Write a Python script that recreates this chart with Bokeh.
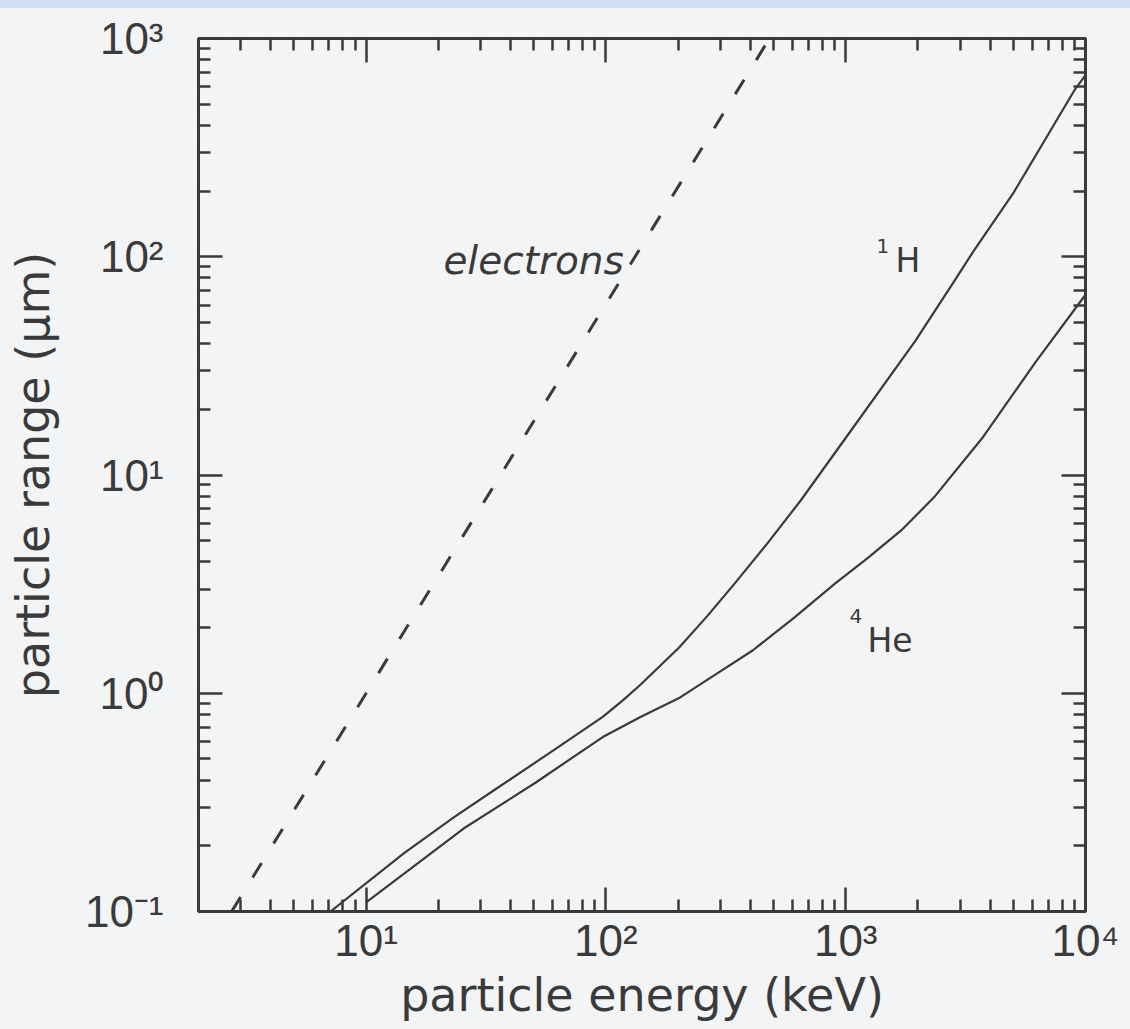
from bokeh.plotting import figure
from bokeh.models import LogAxis, FixedTicker, CustomJSTickFormatter, Div
from bokeh.layouts import column
from bokeh.core.properties import value
from bokeh.embed import file_html
from bokeh.resources import INLINE

# Particle ranges (um) versus kinetic energy (keV)
energy_electrons = [2.75, 481]
range_electrons = [0.1, 1000]

energy_h1 = [7.1, 14.4, 23.2, 35, 60.4, 97, 118, 140, 202, 264, 344, 475, 649,
             1040, 1955, 2845, 3430, 4990, 8980, 10000]
range_h1 = [0.10, 0.185, 0.27, 0.366, 0.547, 0.78, 0.93, 1.10, 1.62, 2.25, 3.18, 4.91, 7.64,
            15.7, 41.3, 77.8, 107, 195, 578, 680]

energy_he4 = [10, 25.5, 51, 97, 140, 204, 287, 409, 610, 902, 1245, 1703, 2330,
              3735, 6200, 10000]
range_he4 = [0.11, 0.24, 0.39, 0.63, 0.78, 0.957, 1.22, 1.57, 2.22, 3.18, 4.19, 5.57, 7.88,
             14.9, 33, 67]

# Tick positions
x_major = [10, 100, 1000, 10000]
x_minor = [m * 10 ** k for k in range(0, 4) for m in range(2, 10) if m * 10 ** k > 2]
y_major = [0.1, 1, 10, 100, 1000]
y_minor = [m * 10.0 ** k for k in range(-1, 3) for m in range(2, 10)]

INK = "#3a3a3a"
BG = "#f2f4f5"
BAND = "#cfdff1"

p = figure(width=1130, height=1021, x_axis_type="log", y_axis_type="log",
           x_range=(2, 1e4), y_range=(0.1, 1e3),
           output_backend="svg", toolbar_location=None,
           min_border_left=198, min_border_right=45,
           min_border_top=30, min_border_bottom=118,
           background_fill_color=BG, border_fill_color=BG)
p.grid.visible = False
p.outline_line_color = INK
p.outline_line_width = 3

sup_fmt = CustomJSTickFormatter(code="""
const sup = {'-': '\u207b', '0': '\u2070', '1': '\u00b9', '2': '\u00b2', '3': '\u00b3',
             '4': '\u2074', '5': '\u2075', '6': '\u2076', '7': '\u2077', '8': '\u2078', '9': '\u2079'};
const e = Math.round(Math.log10(tick));
return '10' + String(e).split('').map(c => sup[c]).join('');
""")
blank_fmt = CustomJSTickFormatter(code="return '';")

xt = FixedTicker(ticks=x_major, minor_ticks=x_minor)
yt = FixedTicker(ticks=y_major, minor_ticks=y_minor)

bottom = p.below[0]
left = p.left[0]
bottom.ticker = xt
left.ticker = yt
bottom.formatter = sup_fmt
left.formatter = sup_fmt

top = LogAxis(ticker=xt, formatter=blank_fmt)
right = LogAxis(ticker=yt, formatter=blank_fmt)
p.add_layout(top, "above")
p.add_layout(right, "right")

for ax in (bottom, left, top, right):
    ax.axis_line_width = 3
    ax.axis_line_color = INK
    ax.major_tick_in = 24
    ax.major_tick_out = 0
    ax.minor_tick_in = 12
    ax.minor_tick_out = 0
    ax.major_tick_line_width = 2.5
    ax.minor_tick_line_width = 2.5
    ax.major_tick_line_color = INK
    ax.minor_tick_line_color = INK
    ax.major_label_text_color = INK
    ax.major_label_text_font = "Liberation Sans"
    ax.major_label_text_font_size = "44px"

for ax in (top, right):
    ax.major_label_text_font_size = "1px"
    ax.major_label_standoff = 0

bottom.major_label_standoff = 4
left.major_label_standoff = 35

bottom.axis_label = "particle energy (keV)"
left.axis_label = "particle range (\u03bcm)"
for ax in (bottom, left):
    ax.axis_label_text_font = "DejaVu Sans"
    ax.axis_label_text_font_size = "46px"
    ax.axis_label_text_font_style = "normal"
    ax.axis_label_text_color = INK
bottom.axis_label_standoff = 0
left.axis_label_standoff = 22

p.line(energy_electrons, range_electrons, line_color=INK, line_width=3, line_dash="17 23")
p.line(energy_h1, range_h1, line_color=INK, line_width=2.2)
p.line(energy_he4, range_he4, line_color=INK, line_width=2.2)

label_font = value("DejaVu Sans")
p.text(x=[21.0], y=[96], text=["electrons"], text_font=label_font,
       text_font_style="italic", text_font_size="39px", text_color=INK,
       text_align="left", text_baseline="alphabetic")
# isotope symbols with raised mass numbers
p.text(x=[1613, 1233], y=[96, 1.745], text=["H", "He"],
       text_font=label_font, text_font_size="33px", text_color=INK,
       text_align="left", text_baseline="alphabetic")
p.text(x=[1345, 1037], y=[112.6, 2.27], text=["1", "4"],
       text_font=label_font, text_font_size="20px", text_color=INK,
       text_align="left", text_baseline="alphabetic")

band = Div(text="", width=1130, height=8, margin=0,
           styles={"background-color": BAND})
page = column(band, p, spacing=0, margin=0, styles={"background-color": BG})

open("out.html", "w").write(file_html(page, INLINE))
